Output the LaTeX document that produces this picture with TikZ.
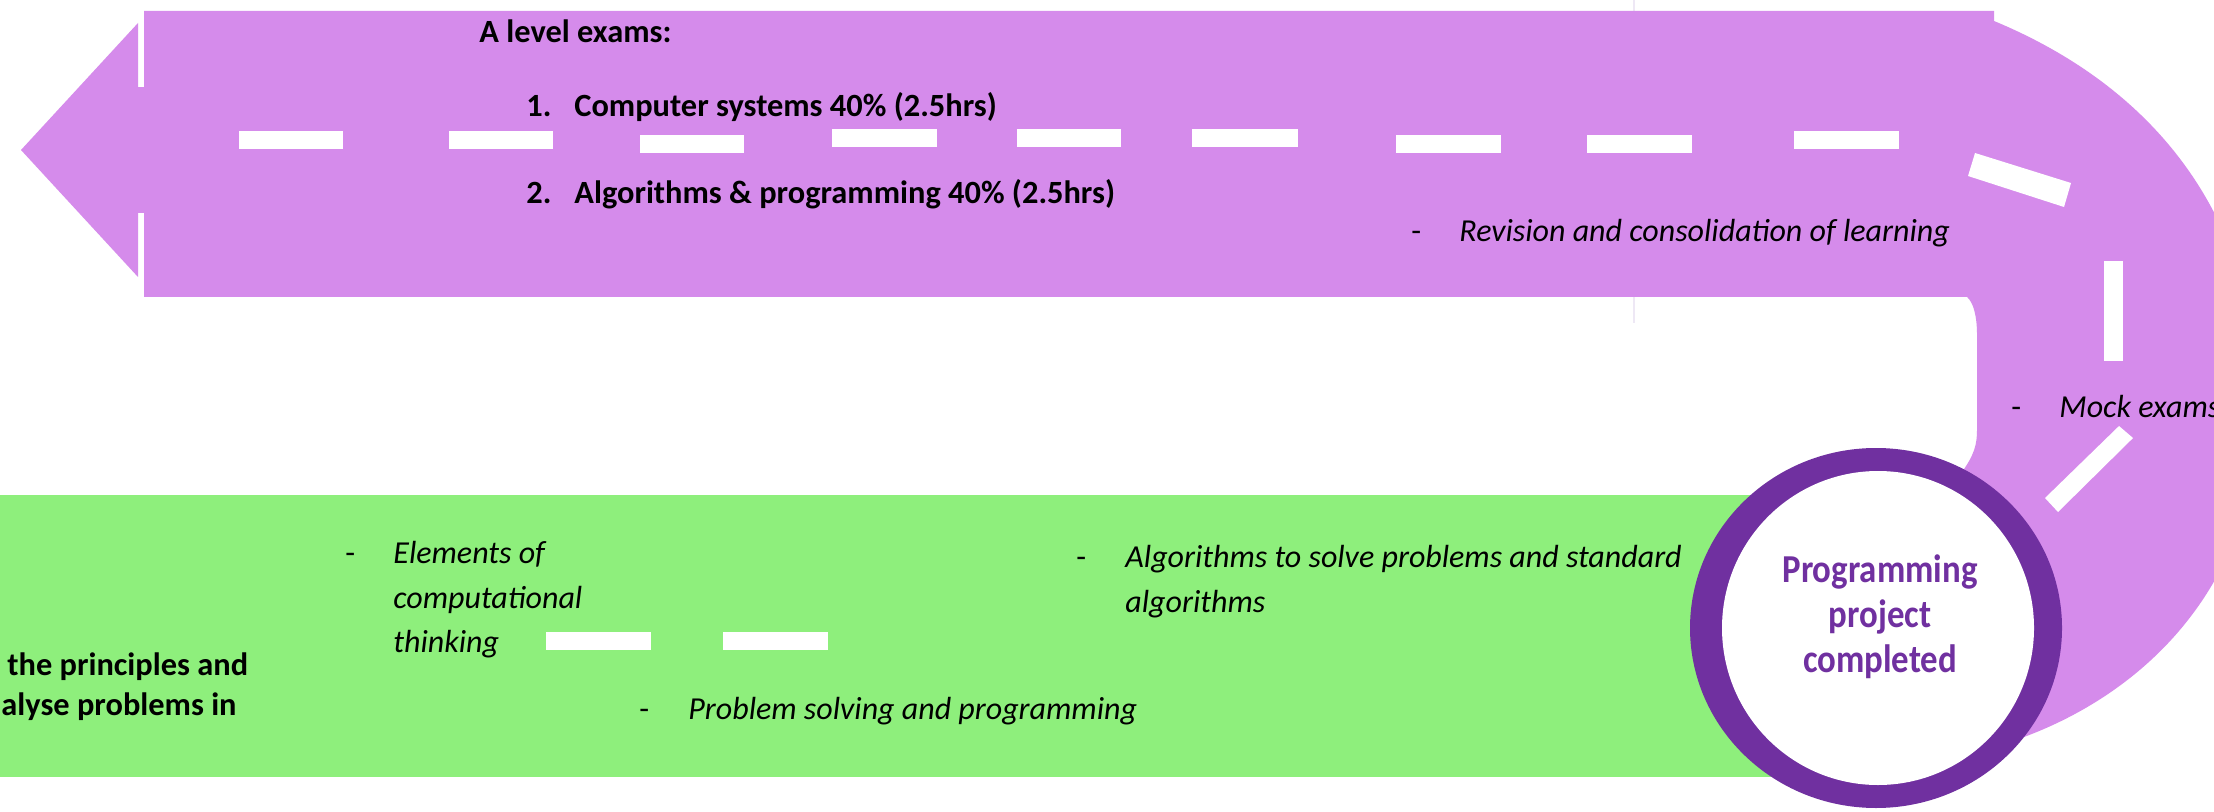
\documentclass[tikz,border=0pt]{standalone}
\usepackage{fontspec}
\setmainfont{Carlito}
\definecolor{road}{HTML}{D58BEB}
\definecolor{grass}{HTML}{8EEF7C}
\definecolor{ring}{HTML}{7030A0}
\definecolor{faint}{HTML}{EEE8F5}
\begin{document}
\begin{tikzpicture}[x=0.5pt,y=-0.5pt,
  txt/.style={inner sep=0pt, anchor=base west, font=\fontsize{16}{19}\selectfont},
  btxt/.style={txt, font=\fontsize{16.2}{19}\selectfont\bfseries},
  itxt/.style={txt, font=\fontsize{16}{19}\selectfont\itshape},
  ctxt/.style={inner sep=0pt, anchor=base, text=ring, font=\fontsize{19.8}{22}\selectfont\bfseries},
  lane/.style={fill=white}]
\useasboundingbox (0,0) rectangle (2214,812);
\clip (0,0) rectangle (2214,812);
\fill[white] (0,0) rectangle (2214,812);
% faint artifact line
\draw[faint, line width=1] (1634,0) -- (1634,323);
% purple road
\fill[road] (144,11) -- (1994,11) -- (1994,21)
  .. controls (2160,90) and (2255,220) .. (2260,400)
  .. controls (2260,580) and (2150,690) .. (2024,737)
  -- (1876,628) -- (1962,472)
  .. controls (1974,455) and (1977,445) .. (1977,430)
  -- (1977,335) .. controls (1977,315) and (1973,302) .. (1967,297)
  -- (144,297) -- cycle;
\fill[road] (21,150) -- (138,23) -- (138,277) -- cycle;
\fill[road] (137,87) rectangle (145,213);
% lane markings on purple road
\fill[lane] (239,131) rectangle (343,149);
\fill[lane] (449,131) rectangle (553,149);
\fill[lane] (640,135) rectangle (744,153);
\fill[lane] (832,129) rectangle (937,147);
\fill[lane] (1017,129) rectangle (1121,147);
\fill[lane] (1192,129) rectangle (1298,147);
\fill[lane] (1396,135) rectangle (1501,153);
\fill[lane] (1587,135) rectangle (1692,153);
\fill[lane] (1794,131) rectangle (1899,149);
\fill[lane] (1975,153) -- (2071,183) -- (2064,207) -- (1968,176) -- cycle;
\fill[lane] (2104,261) rectangle (2123,361);
\fill[lane] (2119,426) -- (2133,438) -- (2058,512) -- (2045,498) -- cycle;
% green road
\fill[grass] (0,495) rectangle (1780,777);
\fill[lane] (546,632) rectangle (651,650);
\fill[lane] (723,632) rectangle (828,650);
% milestone circle
\fill[ring] (1876,628) ellipse [x radius=186, y radius=180];
\fill[white] (1878,628) ellipse [x radius=156, y radius=157];
\node[ctxt] (p1) at (1880,582) {\scalebox{0.88}[1]{Programming}};
\node[ctxt] (p2) at (1880,627) {\scalebox{0.88}[1]{project}};
\node[ctxt] (p3) at (1880,672) {\scalebox{0.88}[1]{completed}};
% purple texts
\node[btxt] (alev) at (479,43) {A level exams:};
\node[btxt] (n1) at (526,117) {1.};
\node[btxt] (e1) at (574,117) {Computer systems 40\% (2.5hrs)};
\node[btxt] (n2) at (526,204) {2.};
\node[btxt] (e2) at (574,204) {Algorithms \& programming 40\% (2.5hrs)};
\node[txt] (d1) at (1411,242) {-};
\node[itxt] (rev) at (1459,242) {Revision and consolidation of learning};
\node[txt] (d2) at (2011,417) {-};
\node[itxt] (mock) at (2059,417) {Mock exams};
% green texts
\node[btxt] (pr1) at (7,675) {the principles and};
\node[btxt] (pr2) at (1,715) {alyse problems in};
\node[txt] (d3) at (345,563) {-};
\node[itxt] (el1) at (393,563) {Elements of};
\node[itxt] (el2) at (393,608) {computational};
\node[itxt] (el3) at (393,652) {thinking};
\node[txt] (d4) at (639,719) {-};
\node[itxt] (ps) at (688,719) {Problem solving and programming};
\node[txt] (d5) at (1076,567) {-};
\node[itxt] (al1) at (1125,567) {Algorithms to solve problems and standard};
\node[itxt] (al2) at (1125,612) {algorithms};
\end{tikzpicture}
\end{document}
